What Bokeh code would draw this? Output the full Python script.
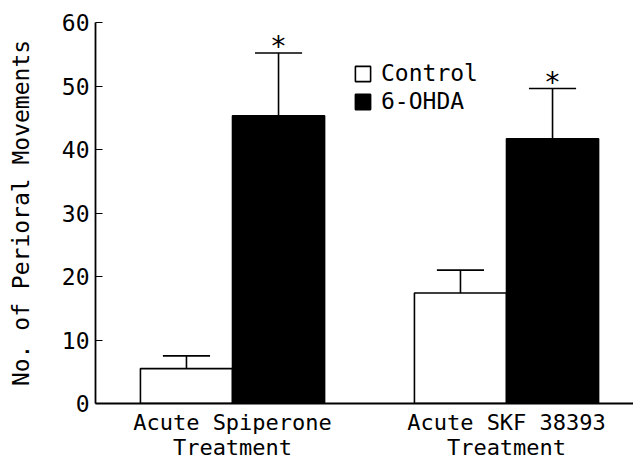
from bokeh.plotting import figure
from bokeh.models import Range1d, FixedTicker, Legend, LegendItem
from bokeh.core.properties import value
from bokeh.embed import file_html
from bokeh.resources import INLINE
import numpy as np

groups = [1.0, 2.0]
group_labels = ["Acute Spiperone\nTreatment", "Acute SKF 38393\nTreatment"]
control = [5.5, 17.4]
control_err = [2.0, 3.6]
ohda = [45.3, 41.7]
ohda_err = [9.9, 7.9]
y_ticks = [0, 10, 20, 30, 40, 50, 60]

FONT = "DejaVu Sans Mono"
bw = 0.336
off = bw / 2
capw = 0.086

p = figure(width=633, height=463, output_backend="svg", toolbar_location=None,
           x_range=Range1d(0.5, 2.4635), y_range=Range1d(0, 60),
           min_border_left=95, min_border_right=0, min_border_top=22, min_border_bottom=60)
p.outline_line_color = None
p.xgrid.grid_line_color = None
p.ygrid.grid_line_color = None
p.background_fill_color = "white"
p.border_fill_color = "white"

g = np.array(groups)
xc = g - off
xo = g + off
c = np.array(control)
ce = np.array(control_err)
o = np.array(ohda)
oe = np.array(ohda_err)

r_c = p.vbar(x=xc, top=c, bottom=0, width=bw, fill_color="white", line_color="black", line_width=1.6)
r_o = p.vbar(x=xo, top=o, bottom=0, width=bw, fill_color="black", line_color="black", line_width=1.6)

# error bars
ex = np.concatenate([xc, xo])
ey0 = np.concatenate([c, o])
ey1 = np.concatenate([c + ce, o + oe])
p.segment(x0=ex, y0=ey0, x1=ex, y1=ey1, line_color="black", line_width=1.6)
p.segment(x0=ex - capw, y0=ey1, x1=ex + capw, y1=ey1, line_color="black", line_width=1.6)

# significance asterisks (for 6-OHDA bars)
sx = xo
sy = o + oe
p.text(x=sx, y=sy, text=["*"] * len(sx), text_align="center", text_baseline="alphabetic",
       y_offset=-6, text_font=value(FONT), text_font_size="28px", text_color="black")

# y axis
p.yaxis.ticker = FixedTicker(ticks=y_ticks)
p.yaxis.major_tick_in = 7
p.yaxis.major_tick_out = 0
p.yaxis.minor_tick_line_color = None
p.yaxis.major_label_standoff = 6
p.yaxis.major_label_text_font = FONT
p.yaxis.major_label_text_font_size = "23px"
p.yaxis.major_label_text_color = "black"
p.yaxis.axis_label = "No. of Perioral Movements"
p.yaxis.axis_label_text_font = FONT
p.yaxis.axis_label_text_font_size = "23px"
p.yaxis.axis_label_text_font_style = "normal"
p.yaxis.axis_label_text_color = "black"
p.yaxis.axis_label_standoff = 25
p.yaxis.axis_line_width = 1.8

# x axis
p.xaxis.ticker = FixedTicker(ticks=groups)
p.xaxis.major_label_overrides = {gv: lab for gv, lab in zip(groups, group_labels)}
p.xaxis.major_tick_line_color = None
p.xaxis.minor_tick_line_color = None
p.xaxis.major_tick_in = 0
p.xaxis.major_tick_out = 0
p.xaxis.major_label_standoff = 6
p.xaxis.major_label_text_font = FONT
p.xaxis.major_label_text_font_size = "22px"
p.xaxis.major_label_text_line_height = 1.0
p.xaxis.major_label_text_color = "black"
p.xaxis.axis_line_width = 1.8

legend = Legend(items=[LegendItem(label="Control", renderers=[r_c]),
                       LegendItem(label="6-OHDA", renderers=[r_o])],
                location=(258, 289), padding=0, margin=0, spacing=2,
                glyph_width=19, glyph_height=19, label_standoff=9,
                label_text_font=FONT, label_text_font_size="23px", label_text_color="black",
                border_line_color=None, background_fill_alpha=0)
p.add_layout(legend, "center")

open("out.html", "w").write(file_html(p, INLINE))
